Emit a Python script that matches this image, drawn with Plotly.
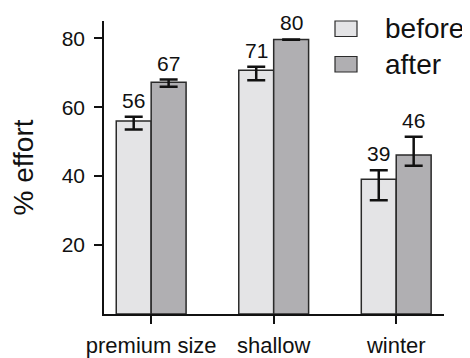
import plotly.graph_objects as go

categories = ["premium size", "shallow", "winter"]
before_vals = [56.0, 70.7, 39.1]
before_plus = [1.2, 1.0, 2.6]
before_minus = [2.5, 2.9, 6.1]
after_vals = [67.2, 79.6, 46.1]
after_plus = [0.8, 0.05, 5.3]
after_minus = [1.3, 0.05, 3.1]
series_names = ["before", "after"]
y_ticks = [20, 40, 60, 80]

FONT = "Liberation Sans, Arial, Helvetica, sans-serif"
C_BEFORE = "#e4e4e6"
C_AFTER = "#b0afb2"
EDGE = "#2a2a2a"

# the page body has an 8px default margin; size the figure to fill the rest
OFF = 8
W, H = 470 - OFF, 358 - OFF
L, T = 104 - OFF, 21 - OFF
R = W - (444 - OFF)
B = H - (314 - OFF)
PW = W - L - R
PH = H - T - B

fig = go.Figure()
for name, vals, ep, em, col in [
    ("before", before_vals, before_plus, before_minus, C_BEFORE),
    ("after", after_vals, after_plus, after_minus, C_AFTER),
]:
    fig.add_trace(go.Bar(
        x=categories, y=vals, name=name,
        marker=dict(color=col, line=dict(color=EDGE, width=1.5)),
        error_y=dict(type="data", symmetric=False, array=ep, arrayminus=em,
                     color="#111111", thickness=2.5, width=9),
        showlegend=False,
    ))

annotations = []
for vals, ep, shift in [(before_vals, before_plus, -17.5), (after_vals, after_plus, 17.5)]:
    for c, v, e in zip(categories, vals, ep):
        annotations.append(dict(
            x=c, y=v + e, xref="x", yref="y", text=str(round(v)),
            showarrow=False, xshift=shift, yshift=3, yanchor="bottom",
            font=dict(family=FONT, size=21, color="#111111"),
        ))

# manual legend (page pixel positions converted to paper coordinates)
def px_x(p):
    return (p - OFF - L) / PW

def px_y(p):
    return (H - B - (p - OFF)) / PH

shapes = []
for i, (name, col) in enumerate(zip(series_names, [C_BEFORE, C_AFTER])):
    top = 21 + i * 35.5
    shapes.append(dict(type="rect", xref="paper", yref="paper",
                       x0=px_x(335), x1=px_x(357), y0=px_y(top + 15.5), y1=px_y(top),
                       fillcolor=col, line=dict(color=EDGE, width=1.2)))
    annotations.append(dict(xref="paper", yref="paper", x=px_x(383), y=px_y(top + 8),
                            xanchor="left", yanchor="middle", text=name, showarrow=False,
                            font=dict(family=FONT, size=28, color="#111111")))

fig.update_layout(
    template="none",
    width=W, height=H,
    margin=dict(l=L, r=R, t=T, b=B, pad=0),
    paper_bgcolor="white", plot_bgcolor="white",
    barmode="group", bargap=0.43, bargroupgap=0,
    font=dict(family=FONT, size=21, color="#111111"),
    annotations=annotations, shapes=shapes,
    showlegend=False,
)
fig.update_xaxes(
    automargin=False,
    range=[-0.385, 2.39], showgrid=False, zeroline=False,
    showline=True, linecolor="#111111", linewidth=1.5,
    ticks="outside", ticklen=8, tickwidth=1.5, tickcolor="#111111",
    ticklabelstandoff=3,
    tickfont=dict(family=FONT, size=22, color="#111111"),
)
fig.update_yaxes(
    automargin=False,
    range=[0, 85], tickvals=y_ticks, showgrid=False, zeroline=False,
    showline=True, linecolor="#111111", linewidth=1.5,
    ticks="outside", ticklen=8, tickwidth=1.5, tickcolor="#111111",
    ticklabelstandoff=5,
    tickfont=dict(family=FONT, size=21, color="#111111"),
    title=dict(text="% effort", font=dict(family=FONT, size=28, color="#111111"), standoff=24),
)

fig.write_html("out.html")
